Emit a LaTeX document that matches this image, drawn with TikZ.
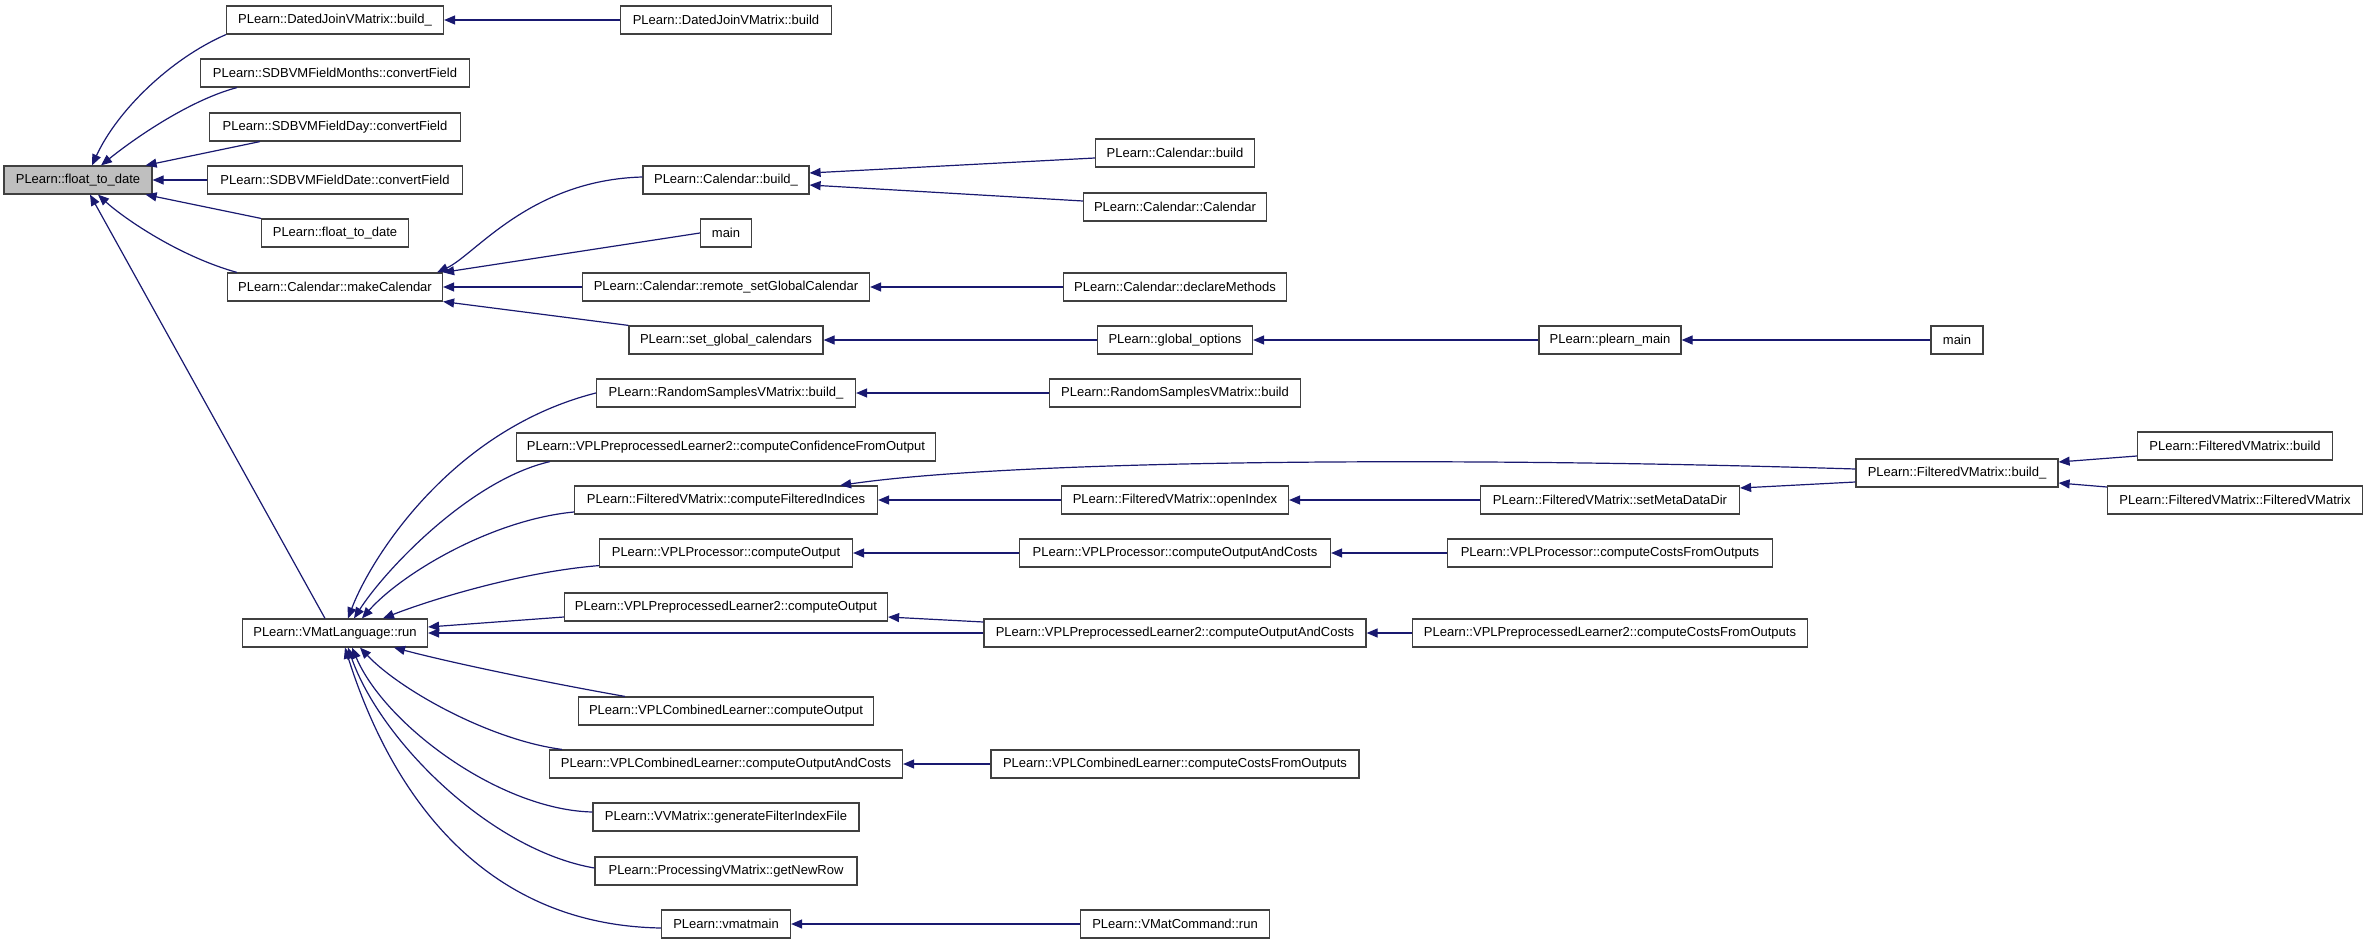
\documentclass[tikz,border=0pt]{standalone}
\usepackage{fontspec}
\setmainfont{Liberation Sans}
\usetikzlibrary{arrows.meta,calc}
\definecolor{edgecol}{RGB}{25,25,112}
\definecolor{boxcol}{RGB}{64,64,64}
\definecolor{hlcol}{RGB}{191,191,191}
\begin{document}
\begin{tikzpicture}[x=1pt,y=-1pt,
  box/.style={draw=boxcol, line width=1.2pt, fill=white, minimum height=28pt, inner sep=0pt,
    font=\fontsize{13}{15}\selectfont},
  arr/.style={draw=edgecol, line width=1.2pt, {Triangle[length=11pt,width=9pt]}-}]
\useasboundingbox (0,0) rectangle (2368,944);
% rank 0
\node[box, fill=hlcol, minimum width=148pt] (ftd) at (78,180) {PLearn::float\_to\_date};
% rank 1
\node[box, minimum width=217pt] (djb_) at (335,20) {PLearn::DatedJoinVMatrix::build\_};
\node[box, minimum width=269pt] (months) at (335,73) {PLearn::SDBVMFieldMonths::convertField};
\node[box, minimum width=251pt] (day) at (335,127) {PLearn::SDBVMFieldDay::convertField};
\node[box, minimum width=255pt] (date) at (335,180) {PLearn::SDBVMFieldDate::convertField};
\node[box, minimum width=147pt] (ftd2) at (335,233) {PLearn::float\_to\_date};
\node[box, minimum width=215pt] (mkcal) at (335,287) {PLearn::Calendar::makeCalendar};
\node[box, minimum width=185pt] (vml) at (335,633) {PLearn::VMatLanguage::run};
% rank 2
\node[box, minimum width=211pt] (djb) at (726,20) {PLearn::DatedJoinVMatrix::build};
\node[box, minimum width=166pt] (calb_) at (726,180) {PLearn::Calendar::build\_};
\node[box, minimum width=51pt] (main1) at (726,233) {main};
\node[box, minimum width=287pt] (remote) at (726,287) {PLearn::Calendar::remote\_setGlobalCalendar};
\node[box, minimum width=194pt] (setgc) at (726,340) {PLearn::set\_global\_calendars};
\node[box, minimum width=259pt] (rsb_) at (726,393) {PLearn::RandomSamplesVMatrix::build\_};
\node[box, minimum width=419pt] (conf) at (726,447) {PLearn::VPLPreprocessedLearner2::computeConfidenceFromOutput};
\node[box, minimum width=303pt] (cfi) at (726,500) {PLearn::FilteredVMatrix::computeFilteredIndices};
\node[box, minimum width=253pt] (vpcO) at (726,553) {PLearn::VPLProcessor::computeOutput};
\node[box, minimum width=323pt] (vp2cO) at (726,607) {PLearn::VPLPreprocessedLearner2::computeOutput};
\node[box, minimum width=295pt] (vclcO) at (726,711) {PLearn::VPLCombinedLearner::computeOutput};
\node[box, minimum width=353pt] (vclcOAC) at (726,764) {PLearn::VPLCombinedLearner::computeOutputAndCosts};
\node[box, minimum width=266pt] (gfif) at (726,817) {PLearn::VVMatrix::generateFilterIndexFile};
\node[box, minimum width=262pt] (gnr) at (726,871) {PLearn::ProcessingVMatrix::getNewRow};
\node[box, minimum width=129pt] (vmatmain) at (726,924) {PLearn::vmatmain};
% rank 3
\node[box, minimum width=159pt] (calb) at (1175,153) {PLearn::Calendar::build};
\node[box, minimum width=183pt] (calcal) at (1175,207) {PLearn::Calendar::Calendar};
\node[box, minimum width=223pt] (decl) at (1175,287) {PLearn::Calendar::declareMethods};
\node[box, minimum width=155pt] (gopt) at (1175,340) {PLearn::global\_options};
\node[box, minimum width=251pt] (rsb) at (1175,393) {PLearn::RandomSamplesVMatrix::build};
\node[box, minimum width=227pt] (oi) at (1175,500) {PLearn::FilteredVMatrix::openIndex};
\node[box, minimum width=311pt] (vpcOAC) at (1175,553) {PLearn::VPLProcessor::computeOutputAndCosts};
\node[box, minimum width=382pt] (vp2cOAC) at (1175,633) {PLearn::VPLPreprocessedLearner2::computeOutputAndCosts};
\node[box, minimum width=368pt] (vclCCFO) at (1175,764) {PLearn::VPLCombinedLearner::computeCostsFromOutputs};
\node[box, minimum width=189pt] (vmcr) at (1175,924) {PLearn::VMatCommand::run};
% rank 4
\node[box, minimum width=142pt] (plm) at (1610,340) {PLearn::plearn\_main};
\node[box, minimum width=259pt] (smdd) at (1610,500) {PLearn::FilteredVMatrix::setMetaDataDir};
\node[box, minimum width=325pt] (vpCCFO) at (1610,553) {PLearn::VPLProcessor::computeCostsFromOutputs};
\node[box, minimum width=395pt] (vp2CCFO) at (1610,633) {PLearn::VPLPreprocessedLearner2::computeCostsFromOutputs};
% rank 5
\node[box, minimum width=52pt] (main2) at (1957,340) {main};
\node[box, minimum width=202pt] (fvb_) at (1957,473) {PLearn::FilteredVMatrix::build\_};
% rank 6
\node[box, minimum width=195pt] (fvb) at (2235,446) {PLearn::FilteredVMatrix::build};
\node[box, minimum width=255pt] (fvfv) at (2235,500) {PLearn::FilteredVMatrix::FilteredVMatrix};

% edges into float_to_date
\draw[arr] ($(ftd.north)+(14,0)$) .. controls (117,111) and (170,59) .. (djb_.south west);
\draw[arr] ($(ftd.north)+(23,0)$) .. controls (135,138) and (190,100) .. ($(months.south west)+(37,0)$);
\draw[arr] ($(ftd.north east)+(-7,0)$) -- ($(day.south west)+(51,0)$);
\draw[arr] (ftd.east) -- (date.west);
\draw[arr] ($(ftd.south east)+(-7,0)$) -- (ftd2.north west);
\draw[arr] ($(ftd.south)+(20,0)$) .. controls (120,215) and (175,255) .. ($(mkcal.north west)+(10,0)$);
\draw[arr] ($(ftd.south)+(12,0)$) -- ($(vml.north)+(-10,0)$);
% rank 1 <- rank 2
\draw[arr] (djb_.east) -- (djb.west);
\draw[arr] ($(mkcal.north east)+(-6,0)$) .. controls (475,255) and (530,180) .. ($(calb_.west)+(0,-3)$);
\draw[arr] (mkcal.north east) -- (main1.west);
\draw[arr] (mkcal.east) -- (remote.west);
\draw[arr] (mkcal.south east) -- (setgc.north west);
\draw[arr] ($(vml.north)+(13,0)$) .. controls (370,560) and (450,430) .. (rsb_.west);
\draw[arr] ($(vml.north)+(19,0)$) .. controls (385,570) and (470,480) .. ($(conf.south west)+(34,0)$);
\draw[arr] ($(vml.north)+(27,0)$) .. controls (400,575) and (490,520) .. ($(cfi.west)+(0,12)$);
\draw[arr] ($(vml.north)+(48,0)$) .. controls (430,600) and (520,572) .. ($(vpcO.south west)+(0,-2)$);
\draw[arr] ($(vml.east)+(0,-6)$) -- ($(vp2cO.west)+(0,10)$);
\draw[arr] (vml.east) -- (vp2cOAC.west);
\draw[arr] ($(vml.south)+(59,0)$) .. controls (460,665) and (560,685) .. ($(vclcO.north west)+(47,0)$);
\draw[arr] ($(vml.south)+(25,0)$) .. controls (400,690) and (490,740) .. ($(vclcOAC.north west)+(13,0)$);
\draw[arr] ($(vml.south)+(17,0)$) .. controls (385,725) and (500,810) .. ($(gfif.west)+(0,-5)$);
\draw[arr] ($(vml.south)+(13,0)$) .. controls (380,740) and (490,850) .. ($(gnr.west)+(0,-3)$);
\draw[arr] ($(vml.south)+(10,0)$) .. controls (390,790) and (480,925) .. ($(vmatmain.west)+(0,4)$);
% rank 2 <- rank 3
\draw[arr] ($(calb_.east)+(0,-7)$) -- ($(calb.west)+(0,5)$);
\draw[arr] ($(calb_.east)+(0,5)$) -- ($(calcal.west)+(0,-6)$);
\draw[arr] (remote.east) -- (decl.west);
\draw[arr] (setgc.east) -- (gopt.west);
\draw[arr] (rsb_.east) -- (rsb.west);
\draw[arr] (cfi.east) -- (oi.west);
\draw[arr] ($(cfi.north east)+(-38,0)$) .. controls (1000,462) and (1400,455) .. ($(fvb_.west)+(0,-4)$);
\draw[arr] (vpcO.east) -- (vpcOAC.west);
\draw[arr] ($(vp2cO.east)+(0,10)$) -- ($(vp2cOAC.west)+(0,-11)$);
\draw[arr] (vclcOAC.east) -- (vclCCFO.west);
\draw[arr] (vmatmain.east) -- (vmcr.west);
% rank 3 <- rank 4
\draw[arr] (gopt.east) -- (plm.west);
\draw[arr] (oi.east) -- (smdd.west);
\draw[arr] (vpcOAC.east) -- (vpCCFO.west);
\draw[arr] (vp2cOAC.east) -- (vp2CCFO.west);
% rank 4 <- rank 5
\draw[arr] (plm.east) -- (main2.west);
\draw[arr] ($(smdd.east)+(0,-12)$) -- ($(fvb_.west)+(0,9)$);
% rank 5 <- rank 6
\draw[arr] ($(fvb_.east)+(0,-11)$) -- ($(fvb.west)+(0,10)$);
\draw[arr] ($(fvb_.east)+(0,10)$) -- ($(fvfv.west)+(0,-13)$);
\end{tikzpicture}
\end{document}
